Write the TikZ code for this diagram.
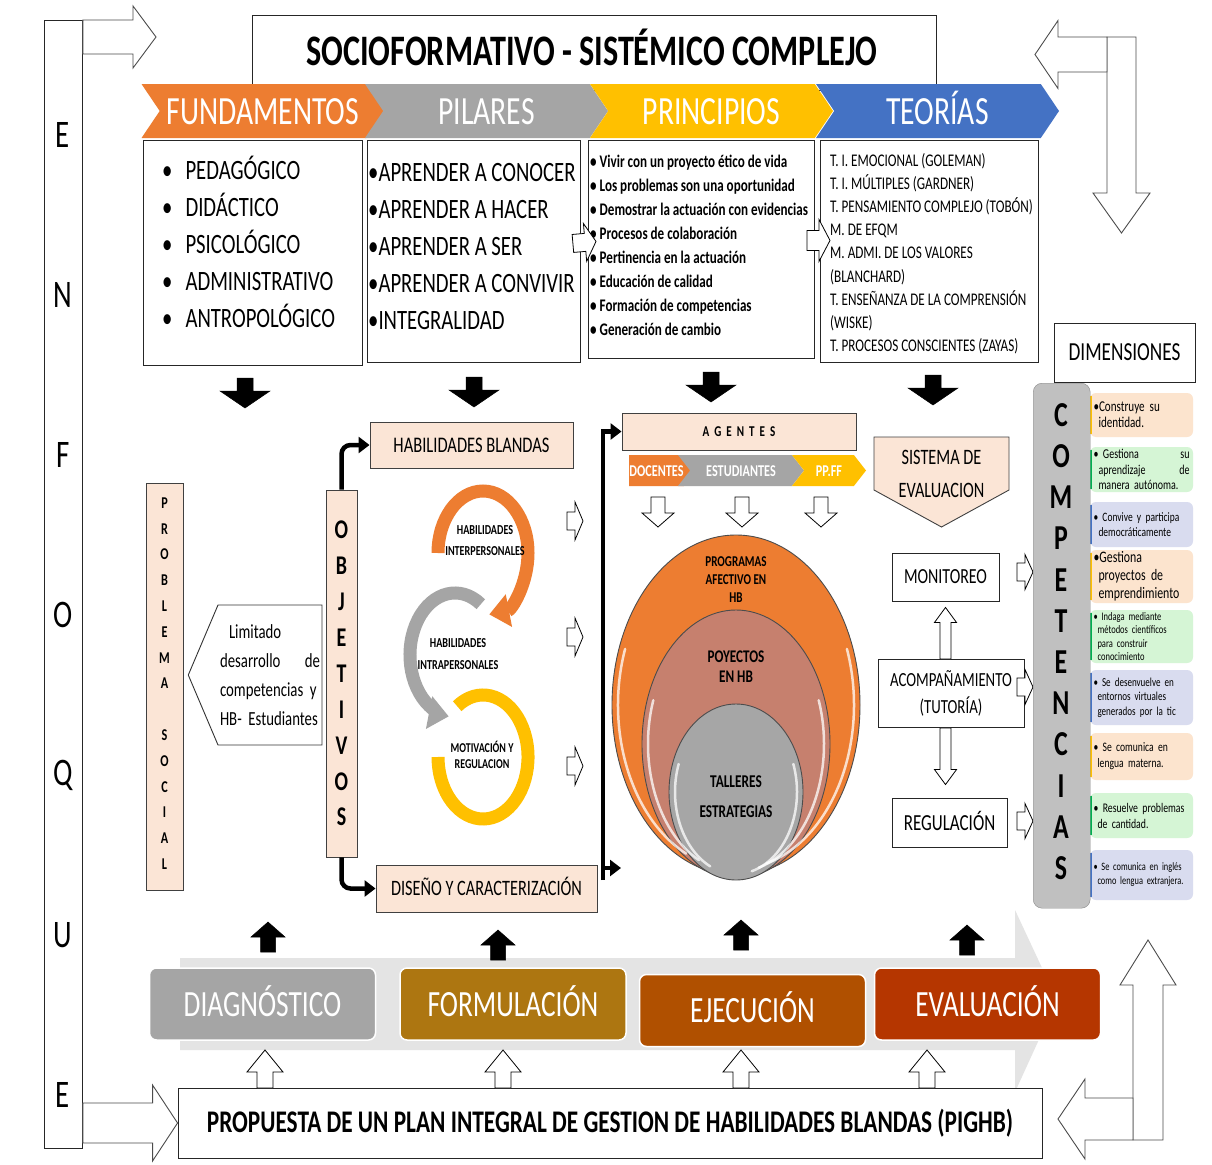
\documentclass[tikz,border=0pt]{standalone}
\usepackage{fontspec}
\setmainfont{Carlito}[FakeStretch=0.74]
\usetikzlibrary{shapes.geometric,shapes.symbols,arrows.meta,calc}
\definecolor{hborange}{HTML}{ED7D31}
\definecolor{hbgray}{HTML}{A5A5A5}
\definecolor{hbyellow}{HTML}{FFC000}
\definecolor{hbblue}{HTML}{4472C4}
\definecolor{peach}{HTML}{FBE5D6}
\definecolor{goldphase}{HTML}{AD7611}
\definecolor{rustphase}{HTML}{B05000}
\definecolor{redphase}{HTML}{B53600}
\definecolor{rosecore}{HTML}{C6806E}
\definecolor{ellgray}{HTML}{A6A6A6}
\definecolor{flowgray}{HTML}{E4E4E4}
\definecolor{compgray}{HTML}{C0C0C0}
\definecolor{cardorange}{HTML}{FCE4CE}
\definecolor{cardgreen}{HTML}{D5F5D5}
\definecolor{cardblue}{HTML}{D9DCEF}
\definecolor{accgreen}{HTML}{00B050}

\newcommand{\fsz}[2]{\fontsize{#1}{#2}\selectfont}
% block arrow: [style]{from}{to}{half shaft}{half head}{head length}
\newcommand{\blockarrow}[6][]{%
  \path #2 coordinate (ba-a) #3 coordinate (ba-b);
  \coordinate (ba-n) at ($(ba-b)!#6!(ba-a)$);
  \filldraw[#1] ($(ba-a)!#4!90:(ba-b)$) -- ($(ba-n)!#4!90:(ba-b)$)
    -- ($(ba-n)!#5!90:(ba-b)$) -- (ba-b) -- ($(ba-n)!#5!-90:(ba-b)$)
    -- ($(ba-n)!#4!-90:(ba-b)$) -- ($(ba-a)!#4!-90:(ba-b)$) -- cycle;}

\begin{document}
\begin{tikzpicture}[x=1pt,y=-1pt,
  every node/.style={inner sep=0},
  box/.style={draw=black!85, fill=white, line width=0.9},
  peachbox/.style={draw=black!75, fill=peach, line width=0.9},
  chev/.style={signal, signal from=west, signal to=east, signal pointer angle=112,
    minimum height=54, text=white, font=\fsz{40}{44}, text height=26, text depth=0},
  agchev/.style={signal, signal to=east, signal pointer angle=104,
    minimum height=31, text=white, font=\bfseries\fsz{16.5}{18}, text height=11, text depth=0},
  phase/.style={rounded corners=7, draw=white, line width=1.5, minimum width=226,
    minimum height=72, text=white, font=\fsz{37}{40}, text height=24, text depth=0},
  card/.style={fill=#1, rounded corners=6, minimum width=103, text width=96,
    inner xsep=3.5, align=left},
  whitearr/.style={fill=white, draw=black, line width=0.8},
  framearr/.style={fill=white, draw=black!70, line width=0.9},
  blackarr/.style={fill=black, draw=black, line width=0.5},
  blackline/.style={line width=4.5, -{Triangle[width=16pt,length=11pt]}},
  ring/.style={line width=13},
  gloss/.style={white, line width=2.5, opacity=0.75, line cap=round},
]
\useasboundingbox (0,0) rectangle (1212,1164);
\fill[white] (0,0) rectangle (1212,1164);

% enfoque bar and frame arrows
\node[box, minimum width=38, minimum height=1128, anchor=north west] (enfoque) at (44,20) {};
\foreach \l [count=\i] in {E,N,F,O,Q,U,E}
  \node[font=\fsz{39}{40}] (enf-\i) at (63,{135+160*(\i-1)}) {\l};
\coordinate (tl-tip) at (156,37);
\blockarrow[framearr]{($(enfoque.north east)+(0,17)$)}{(tl-tip)}{17pt}{31pt}{23pt}
\coordinate (tr-top) at (1121.5,37);
\coordinate (tr-tip) at (1121.5,233);
\blockarrow[framearr]{(tr-top)}{(tr-tip)}{14.5pt}{28.5pt}{40pt}
\coordinate (trl-tip) at (1035,54.5);
\blockarrow[framearr]{(1107,54.5)}{(trl-tip)}{17.5pt}{34pt}{23pt}
\coordinate (br-bot) at (1148,1140);
\coordinate (br-tip) at (1148,940);
\blockarrow[framearr]{(br-bot)}{(br-tip)}{15pt}{28pt}{45pt}
\coordinate (brl-tip) at (1058,1119);
\blockarrow[framearr]{(1133,1119)}{(brl-tip)}{21pt}{40pt}{27pt}

% title
\node[box, minimum width=684, minimum height=75, anchor=north west] (titlebox) at (252,15) {};
\node[font=\bfseries\fsz{43.5}{46}, text height=28, text depth=0] (title) at (592,52) {SOCIOFORMATIVO - SISTÉMICO COMPLEJO};

% chevron band
\foreach \n/\c/\x/\t in {fund/hborange/263/FUNDAMENTOS,pil/hbgray/486.5/PILARES,prin/hbyellow/711.5/PRINCIPIOS,teo/hbblue/937.5/TEORÍAS}
  \node[chev, fill=\c, minimum width=243] (\n) at (\x,111) {\t};

% content boxes
\node[box, minimum width=219, minimum height=225, anchor=north west] (fundbox) at (143,140) {};
\node[box, minimum width=213, minimum height=222, anchor=north west] (pilbox) at (367,140) {};
\node[box, minimum width=226, minimum height=218, anchor=north west] (prinbox) at (588,140) {};
\node[box, minimum width=218, minimum height=222, anchor=north west] (teobox) at (820,140) {};
\foreach \t [count=\i] in {PEDAGÓGICO,DIDÁCTICO,PSICOLÓGICO,ADMINISTRATIVO,ANTROPOLÓGICO}
  \node[anchor=base west, font=\fsz{28}{30}] (fund-\i) at (162,{179+37*(\i-1)}) {•\hspace{13pt}\t};
\foreach \t [count=\i] in {APRENDER A CONOCER,APRENDER A HACER,APRENDER A SER,APRENDER A CONVIVIR,INTEGRALIDAD}
  \node[anchor=base west, font=\fsz{28}{30}] (pil-\i) at (368,{181+37*(\i-1)}) {•\t};
\foreach \t [count=\i] in {Vivir con un proyecto ético de vida,Los problemas son una oportunidad,Demostrar la actuación con evidencias,Procesos de colaboración,Pertinencia en la actuación,Educación de calidad,Formación de competencias,Generación de cambio}
  \node[anchor=base west, font=\bfseries\fsz{17.7}{20}] (prin-\i) at (590,{167+24.1*(\i-1)}) {•\,\t};
\foreach \t [count=\i] in {T. I. EMOCIONAL (GOLEMAN),T. I. MÚLTIPLES (GARDNER),T. PENSAMIENTO COMPLEJO (TOBÓN),M. DE EFQM,M. ADMI. DE LOS VALORES,(BLANCHARD),T. ENSEÑANZA DE LA COMPRENSIÓN,(WISKE),T. PROCESOS CONSCIENTES (ZAYAS)}
  \node[anchor=base west, font=\fsz{17.8}{20}] (teo-\i) at (830,{166.5+23.1*(\i-1)}) {\t};
\blockarrow[whitearr]{($(pilbox.east)+(-8,-8)$)}{($(prinbox.west)+(8,-8)$)}{9pt}{19pt}{11pt}
\blockarrow[whitearr]{($(prinbox.east)+(-8,-9)$)}{($(teobox.west)+(10,-11)$)}{10pt}{21pt}{11pt}
\foreach \x/\y in {245/378,474/377,711/372,933/375}
  {\blockarrow[blackarr]{(\x,\y)}{(\x,\y+30)}{8pt}{25pt}{17pt}}

% problema social
\node[peachbox, minimum width=37, minimum height=407, anchor=north west] (probl) at (146,483) {};
\foreach \l [count=\i] in {P,R,O,B,L,E,M,A,{},S,O,C,I,A,L}
  \node[font=\bfseries\fsz{16.5}{17}] (probl-\i) at (164.5,{503+25.8*(\i-1)}) {\l};
\node[signal, signal to=west, signal pointer angle=134, draw=black!80, fill=white, line width=0.9,
  minimum height=140, text width=100, inner xsep=2, align=left, font=\fsz{20}{29}] (limit) at (270,675)
  {\hspace*{9pt}Limitado\\desarrollo\hfill de\\competencias y\\HB- Estudiantes};

% objetivos
\node[peachbox, minimum width=31, minimum height=367] (obj) at (341.5,673.5) {};
\foreach \l [count=\i] in {O,B,J,E,T,I,V,O,S}
  \node[font=\bfseries\fsz{27}{28}] (obj-\i) at (341.5,{530+35.9*(\i-1)}) {\l};
\node[peachbox, minimum width=203, minimum height=46, font=\fsz{22.3}{24}] (hbl) at (471.5,445) {HABILIDADES BLANDAS};
\node[peachbox, minimum width=221, minimum height=47, font=\fsz{22}{24}, text height=14, text depth=0] (dis) at (486.5,888.5) {DISEÑO Y CARACTERIZACIÓN};
\draw[blackline, rounded corners=9] (obj.north) |- (hbl.west);
\draw[blackline, rounded corners=9] (obj.south) |- (dis.west);

% habilidades cycle
\draw[ring, hbyellow] (457.2,706.2) arc[start angle=125, end angle=-180, x radius=45pt, y radius=62pt];
\draw[ring, hbgray, -{Triangle[width=32pt,length=20pt]}] (480.8,604.2) arc[start angle=55, end angle=262, x radius=45pt, y radius=62pt];
\draw[ring, hborange, -{Triangle[width=32pt,length=20pt]}] (438,553) arc[start angle=180, end angle=-82, x radius=45pt, y radius=62pt];
\node[font=\bfseries\fsz{13.7}{21}, align=center] (ring-inter) at (485,541) {HABILIDADES\\INTERPERSONALES};
\node[font=\bfseries\fsz{13.7}{22}, align=center] (ring-intra) at (458,654) {HABILIDADES\\INTRAPERSONALES};
\node[font=\bfseries\fsz{13.5}{16}, align=center] (ring-motiv) at (482,755) {MOTIVACIÓN Y\\REGULACION};
\foreach \y in {521,637,766}
  {\blockarrow[whitearr]{(567,\y)}{(583,\y)}{9pt}{19pt}{8pt}}

% agentes
\node[peachbox, minimum width=234, minimum height=37, font=\bfseries\fsz{15}{16}] (agentes) at (739,431.5) {A~~G~~E~~N~~T~~E~~S};
\node[agchev, fill=hborange, minimum width=67] (doc) at (656.5,470.5) {DOCENTES};
\node[agchev, signal from=west, fill=hbgray, minimum width=126] (est) at (741,470.5) {ESTUDIANTES};
\node[agchev, signal from=west, fill=hbyellow, minimum width=74] (ppff) at (829,470.5) {PP.FF};
\foreach \x in {658,742,821}
  {\blockarrow[whitearr]{(\x,497)}{(\x,527)}{7pt}{16pt}{14pt}}
\coordinate (ln-bot) at (603,880);
\coordinate (ln-split) at (603,868);
\coordinate (ln-end) at (621,868);
\draw[blackline] (ln-bot) |- (agentes.west);
\draw[blackline] (ln-split) -- (ln-end);

% nested ellipses
\node[ellipse, draw=black!70, fill=hborange, line width=0.9, minimum width=248, minimum height=340] (prog) at (736,705) {};
\node[ellipse, draw=black!70, fill=rosecore, line width=0.9, minimum width=188, minimum height=268] (proy) at (736,744) {};
\node[ellipse, draw=black!70, fill=ellgray, line width=0.9, minimum width=134, minimum height=176] (tall) at (736,792) {};
\foreach \c/\rx/\ry in {prog/118/164,proy/88/128,tall/61/82}
  {\draw[gloss] ($(\c.center)+({\rx*cos(160)},{-\ry*sin(160)})$) arc[start angle=160, end angle=245, x radius=\rx*1pt, y radius=\ry*1pt];
   \draw[gloss] ($(\c.center)+({\rx*cos(-75)},{-\ry*sin(-75)})$) arc[start angle=-75, end angle=20, x radius=\rx*1pt, y radius=\ry*1pt];}
\node[font=\bfseries\fsz{15}{18}, align=center] (prog-txt) at (736,580) {PROGRAMAS\\AFECTIVO EN\\HB};
\node[font=\bfseries\fsz{17.8}{20}, align=center] (proy-txt) at (736,667) {POYECTOS\\EN HB};
\node[font=\bfseries\fsz{18}{30}, align=center] (tall-txt) at (736,797) {TALLERES\\ESTRATEGIAS};

% evaluacion
\filldraw[fill=peach, draw=black!75, line width=0.9] (874,437) -- (1009,437) -- (1009,490) -- (941.5,527) -- (874,490) -- cycle;
\node[font=\fsz{22}{33}, align=center] (sis) at (941.5,474) {SISTEMA DE\\EVALUACION};
\node[box, minimum width=107, minimum height=48, font=\fsz{21.5}{22}] (monit) at (945.5,577) {MONITOREO};
\node[box, minimum width=146, minimum height=68, font=\fsz{20}{27}, align=center] (acomp) at (951,693.5) {ACOMPAÑAMIENTO\\(TUTORÍA)};
\node[box, minimum width=115, minimum height=49, font=\fsz{23}{24}, text height=15, text depth=0] (regul) at (949.5,822.5) {REGULACIÓN};
\blockarrow[whitearr]{(acomp.north -| monit.south)}{($(monit.south)+(0,6)$)}{5.5pt}{11pt}{15pt}
\blockarrow[whitearr]{(acomp.south -| monit.south)}{($(regul.north -| monit.south)+(0,-13)$)}{5.5pt}{11pt}{15pt}
\foreach \y in {572,687,821}
  {\blockarrow[whitearr]{(1017,\y)}{(1033,\y)}{9pt}{17.5pt}{8pt}}

% competencias
\node[box, minimum width=141, minimum height=59, font=\fsz{26}{28}] (dimen) at (1124.5,352.5) {DIMENSIONES};
\node[card=cardorange, minimum height=44, font=\fsz{15}{16}] (card-1) at (1141.5,415) {•Construye su\\\hspace*{5pt}identidad.};
\node[card=cardgreen, minimum height=45, font=\fsz{13.5}{15.5}] (card-2) at (1141.5,469.5) {• Gestiona\hfill su\\\hspace*{5pt}aprendizaje\hfill de\\\hspace*{5pt}manera autónoma.};
\node[card=cardblue, minimum height=45, font=\fsz{12.8}{15.5}] (card-3) at (1141.5,524.5) {• Convive y participa\\\hspace*{5pt}democráticamente};
\node[card=cardorange, minimum height=53, font=\fsz{16}{18}] (card-4) at (1141.5,576.5) {•Gestiona\\\hspace*{5pt}proyectos de\\\hspace*{5pt}emprendimiento};
\node[card=cardgreen, minimum height=53, font=\fsz{11.5}{13.3}] (card-5) at (1141.5,636.5) {• Indaga mediante\\\hspace*{4pt}métodos científicos\\\hspace*{4pt}para construir\\\hspace*{4pt}conocimiento};
\node[card=cardblue, minimum height=55, font=\fsz{12.2}{14.5}] (card-6) at (1141.5,697.5) {• Se desenvuelve en\\\hspace*{4pt}entornos virtuales\\\hspace*{4pt}generados por la tic};
\node[card=cardorange, minimum height=47, font=\fsz{13}{16}] (card-7) at (1141.5,756.5) {• Se comunica en\\\hspace*{4pt}lengua materna.};
\node[card=cardgreen, minimum height=45, font=\fsz{13.2}{16}] (card-8) at (1141.5,815.5) {• Resuelve problemas\\\hspace*{4pt}de cantidad.};
\node[card=cardblue, minimum height=50, font=\fsz{11.3}{14}] (card-9) at (1141.5,875) {• Se comunica en inglés\\\hspace*{4pt}como lengua extranjera.};
\foreach \i/\ac in {1/hbyellow,2/accgreen,3/hbblue,4/hbyellow,5/accgreen,6/hbblue,7/hbyellow,8/accgreen,9/hbblue}
  \draw[\ac, line width=1.5] ($(card-\i.north west)+(1,3)$) -- ($(card-\i.south west)+(1,-3)$);
\node[draw=black!45, fill=compgray, rounded corners=9, minimum width=57, minimum height=525, anchor=north west] (comp) at (1033,383) {};
\foreach \l [count=\i] in {C,O,M,P,E,T,E,N,C,I,A,S}
  \node[font=\bfseries\fsz{35}{36}] (comp-\i) at (1061,{415+41.2*(\i-1)}) {\l};

% process band
\fill[flowgray] (180,958) -- (1015,958) -- (1015,910) -- (1057,1000) -- (1015,1092) -- (1015,1050) -- (180,1050) -- cycle;
\node[phase, fill=hbgray] (diag) at (262.5,1004) {DIAGNÓSTICO};
\node[phase, fill=goldphase] (form) at (513,1004) {FORMULACIÓN};
\node[phase, fill=rustphase] (ejec) at (752.5,1010.5) {EJECUCIÓN};
\node[phase, fill=redphase] (eval) at (987.5,1004) {EVALUACIÓN};
\foreach \x/\y in {268/952,498/960,741/950,967/955}
  {\blockarrow[blackarr]{(\x,\y)}{(\x,\y-30)}{7.5pt}{17pt}{15pt}}
\node[box, minimum width=864, minimum height=70, font=\bfseries\fsz{31.5}{33}] (prop) at (610,1123) {PROPUESTA DE UN PLAN INTEGRAL DE GESTION DE HABILIDADES BLANDAS (PIGHB)};
\foreach \x in {265,503,741,927}
  {\blockarrow[whitearr]{(\x,1088)}{(\x,1050)}{8pt}{18pt}{22pt}}
\blockarrow[framearr]{(enfoque.east |- prop.west)}{(prop.west)}{20pt}{38pt}{25pt}
\end{tikzpicture}
\end{document}
